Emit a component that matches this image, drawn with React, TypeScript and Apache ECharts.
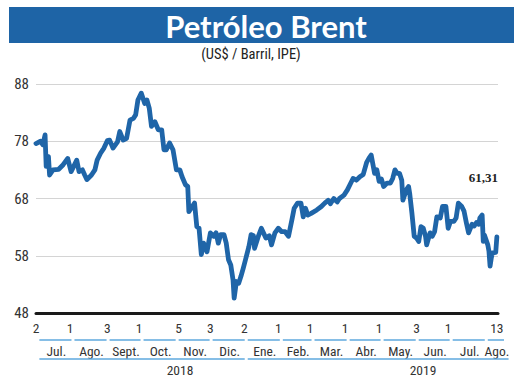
import React, { useEffect, useRef } from "react";
import * as echarts from "echarts";

const dates = [
  "2018-07-02","2018-07-06","2018-07-08","2018-07-10","2018-07-11","2018-07-13","2018-07-14","2018-07-17","2018-07-22","2018-07-26","2018-07-30",
  "2018-08-02","2018-08-07","2018-08-09","2018-08-12","2018-08-14","2018-08-16","2018-08-20","2018-08-23","2018-08-25","2018-08-28","2018-08-31",
  "2018-09-03","2018-09-05","2018-09-08","2018-09-12","2018-09-14","2018-09-17","2018-09-20","2018-09-23","2018-09-26","2018-09-28","2018-09-30",
  "2018-10-03","2018-10-06","2018-10-08","2018-10-10","2018-10-12","2018-10-15","2018-10-18","2018-10-21","2018-10-23","2018-10-25","2018-10-28","2018-10-31",
  "2018-11-03","2018-11-06","2018-11-08","2018-11-11","2018-11-13","2018-11-14","2018-11-18","2018-11-19","2018-11-21","2018-11-23","2018-11-25","2018-11-27","2018-11-30",
  "2018-12-03","2018-12-06","2018-12-08","2018-12-10","2018-12-12","2018-12-15","2018-12-17","2018-12-19","2018-12-21","2018-12-23","2018-12-24","2018-12-26","2018-12-28","2018-12-30",
  "2019-01-01","2019-01-03","2019-01-06","2019-01-08","2019-01-10","2019-01-11","2019-01-14","2019-01-17","2019-01-21","2019-01-24","2019-01-26","2019-01-29",
  "2019-02-01","2019-02-04","2019-02-07","2019-02-10","2019-02-13","2019-02-15","2019-02-18","2019-02-21","2019-02-23","2019-02-25","2019-02-27",
  "2019-03-02","2019-03-07","2019-03-11","2019-03-14","2019-03-17","2019-03-19","2019-03-22","2019-03-25","2019-03-27","2019-03-31",
  "2019-04-03","2019-04-06","2019-04-08","2019-04-11","2019-04-14","2019-04-17","2019-04-20","2019-04-22","2019-04-24","2019-04-27","2019-04-29",
  "2019-05-01","2019-05-03","2019-05-05","2019-05-08","2019-05-11","2019-05-13","2019-05-15","2019-05-17","2019-05-19","2019-05-21","2019-05-22","2019-05-25","2019-05-27","2019-05-28","2019-05-30",
  "2019-06-01","2019-06-03","2019-06-05","2019-06-07","2019-06-09","2019-06-11","2019-06-12","2019-06-15","2019-06-17","2019-06-19","2019-06-21","2019-06-24","2019-06-26","2019-06-29",
  "2019-07-01","2019-07-03","2019-07-06","2019-07-08","2019-07-10","2019-07-13","2019-07-15","2019-07-17","2019-07-19","2019-07-22","2019-07-24","2019-07-26","2019-07-28","2019-07-29","2019-07-31",
  "2019-08-01","2019-08-02","2019-08-05","2019-08-06","2019-08-07","2019-08-08","2019-08-09","2019-08-12","2019-08-13"
];

const prices = [
  77.6,78.0,77.4,79.1,73.6,75.3,72.1,73.0,73.1,73.9,75.0,
  72.7,74.7,72.7,73.0,72.1,71.3,72.1,73.0,74.7,75.9,76.8,
  78.1,78.2,76.8,77.9,79.7,78.2,78.5,81.7,82.0,82.6,85.2,
  86.4,84.6,85.2,83.8,80.6,81.4,80.0,80.0,76.5,76.5,77.7,76.5,
  73.0,73.0,71.8,70.4,70.1,65.7,66.9,67.2,63.1,62.8,58.2,60.2,58.7,
  62.0,61.4,62.0,60.2,61.7,61.7,60.2,57.3,56.4,53.8,50.6,53.5,53.2,54.4,
  55.8,57.3,59.6,61.7,61.5,59.3,61.2,62.8,61.1,61.5,59.9,62.0,
  62.8,62.2,62.2,61.4,64.3,66.3,67.2,67.2,64.8,66.3,65.1,
  65.4,66.0,66.6,67.2,67.7,67.1,68.0,67.4,68.0,68.6,
  69.5,70.7,71.5,71.2,71.8,72.2,74.3,75.0,75.6,72.4,73.0,
  71.0,71.4,70.1,70.7,70.7,71.5,73.0,72.4,72.4,71.2,67.7,69.5,70.1,68.9,65.4,
  61.4,61.1,60.5,63.1,62.8,61.4,59.9,62.0,61.4,62.2,64.8,64.6,66.6,66.6,
  62.8,64.0,64.0,64.6,67.2,66.6,65.8,63.8,62.0,63.5,63.2,63.8,63.5,64.6,65.1,
  60.5,61.6,59.9,58.8,56.2,57.5,58.5,58.6,61.31
];

const tickDates = ["2018-07-02","2018-08-01","2018-09-03","2018-10-01","2018-11-05","2018-12-03","2019-01-02","2019-02-01","2019-03-01","2019-04-01","2019-05-01","2019-06-03","2019-07-01","2019-08-13"];
const monthLabels = ["Jul.","Ago.","Sept.","Oct.","Nov.","Dic.","Ene.","Feb.","Mar.","Abr.","May.","Jun.","Jul.","Ago."];
const monthBounds = ["2018-07-01","2018-08-01","2018-09-01","2018-10-01","2018-11-01","2018-12-01","2019-01-01","2019-02-01","2019-03-01","2019-04-01","2019-05-01","2019-06-01","2019-07-01","2019-08-01","2019-08-18"];
const yearLabels = ["2018","2019"];
const yearBounds = ["2018-07-01","2019-01-01","2019-08-22"];
const yAxisMin = 48;
const yAxisMax = 88;
const yAxisStep = 10;
const axisStart = "2018-07-02";
const axisEnd = "2019-08-14";

const ts = (s: string) => {
  const [y, m, d] = s.split("-").map(Number);
  return new Date(y, m - 1, d).getTime();
};

const NARROW = "'Liberation Sans Narrow', 'Roboto Condensed', 'Arial Narrow', sans-serif";
const BLUE = "#1f65a8";
const LIGHT = "#5ea8de";

export default function App() {
  const ref = useRef<HTMLDivElement>(null);
  useEffect(() => {
    if (!ref.current) return;
    const chart = echarts.init(ref.current, null, { renderer: "svg" });
    const option: any = {
      animation: false,
      backgroundColor: "#ffffff",
      grid: { left: 36, right: 22, top: 84, bottom: 77, containLabel: false, outerBoundsMode: "none" },
      xAxis: {
        type: "time",
        min: ts(axisStart),
        max: ts(axisEnd),
        axisLine: { show: true, onZero: false, lineStyle: { color: "#1a1a1a", width: 3 } },
        axisTick: { show: false },
        splitLine: { show: false },
        axisLabel: { show: false },
      },
      yAxis: {
        type: "value",
        min: yAxisMin,
        max: yAxisMax,
        interval: yAxisStep,
        axisLine: { show: false },
        axisTick: { show: false },
        axisLabel: { fontFamily: NARROW, fontSize: 15, color: "#333", margin: 7 },
        splitLine: { lineStyle: { color: "#d4d4d4", width: 1 } },
      },
      series: [
        {
          type: "line",
          data: dates.map((d, i) => [ts(d), prices[i]]),
          showSymbol: false,
          symbol: "none",
          lineStyle: { color: BLUE, width: 4.8, cap: "round", join: "round" },
          z: 3,
        },
      ],
    };
    chart.setOption(option);

    const px = (s: string) => chart.convertToPixel({ xAxisIndex: 0 }, ts(s)) as number;
    const graphics: any[] = [
      { type: "rect", shape: { x: 9, y: 7, width: 505, height: 36 }, style: { fill: "#1e64a6" } },
      {
        type: "text", x: 266, y: 26,
        style: { text: "Petróleo Brent", fill: "#ffffff", font: "bold 31px Lato, 'Open Sans', sans-serif", align: "center", verticalAlign: "middle" },
      },
      {
        type: "text", x: 251, y: 54,
        style: { text: "(US$ / Barril, IPE)", fill: "#222", font: `14.5px ${NARROW}`, align: "center", verticalAlign: "middle" },
      },
      {
        type: "text", x: 498, y: 177,
        style: {
          text: prices[prices.length - 1].toFixed(2).replace(".", ","),
          fill: "#222", font: "bold 13px 'Liberation Serif', 'DejaVu Serif', serif", align: "right", verticalAlign: "middle",
        },
      },
    ];
    for (const t of tickDates) {
      graphics.push({
        type: "text", x: px(t), y: 328,
        style: { text: String(Number(t.slice(8))), fill: "#333", font: `13.5px ${NARROW}`, align: "center", verticalAlign: "middle" },
      });
    }
    const shift = 3;
    for (let i = 0; i < monthLabels.length; i++) {
      const a = px(monthBounds[i]) + shift + 1.5;
      const b = px(monthBounds[i + 1]) + shift - 1.5;
      graphics.push({ type: "line", shape: { x1: a, y1: 340, x2: b, y2: 340 }, style: { stroke: LIGHT, lineWidth: 1.5 } });
      graphics.push({
        type: "text", x: (a + b) / 2 + 1, y: 351,
        style: { text: monthLabels[i], fill: "#333", font: `13.5px ${NARROW}`, align: "center", verticalAlign: "middle" },
      });
    }
    const yearX = [180, 423];
    for (let i = 0; i < yearLabels.length; i++) {
      const a = px(yearBounds[i]) + shift + 1.5;
      const b = px(yearBounds[i + 1]) + shift - 1.5;
      graphics.push({ type: "line", shape: { x1: a, y1: 359, x2: b, y2: 359 }, style: { stroke: LIGHT, lineWidth: 1.5 } });
      graphics.push({
        type: "text", x: yearX[i], y: 370,
        style: { text: yearLabels[i], fill: "#333", font: `13.5px ${NARROW}`, align: "center", verticalAlign: "middle" },
      });
    }
    chart.setOption({ graphic: graphics });
    return () => chart.dispose();
  }, []);
  return <div ref={ref} style={{ position: "fixed", left: 0, top: 0, width: 520, height: 390 }} />;
}
